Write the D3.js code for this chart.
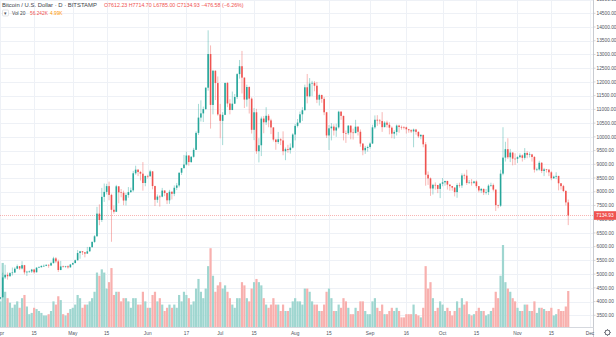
<!DOCTYPE html>
<html>
<head>
<meta charset="utf-8">
<script src="https://cdn.jsdelivr.net/npm/d3@7"></script>
<style>
html,body{margin:0;padding:0;background:#fff;}
svg{display:block;}
text{font-family:"Liberation Sans",Arial,sans-serif;}
</style>
</head>
<body>
<div id="chart"></div>
<script>
// ---------------- DATA ----------------
const startDate = "2019-04-01"; // first daily candle, consecutive days follow
const open = [
4105,4158,4880,4974,4922,5036,5059,5198,5289,5205,5325,5064,5089,5096,5167,5067,5235,5251,5298,5303,5337,5314,5399,5573,5464,5150,5280,5268,5285,5247,
5350,5402,5505,5768,5831,5795,5747,5830,5982,6174,6378,7204,6972,7814,7995,8205,7885,7343,7271,8198,7978,7963,7680,7882,7988,8052,8673,8805,8719,8659,8319,
8575,8565,8742,8208,7707,7824,7822,8043,7954,7688,8000,7927,8145,8230,8693,8860,8990,9320,9082,9273,9527,10144,10701,10855,11011,11790,13017,11162,12407,11959,
10817,10583,10801,11961,11215,10978,11208,11450,12285,12573,12156,11358,11815,11392,10256,10895,9477,9693,10666,10530,10767,10599,10343,9900,9811,9911,9870,9477,9552,9519,9607,
10085,10399,10519,10821,10970,11805,11478,11941,11966,11862,11354,11523,11382,10895,10051,10311,10374,10231,10345,10916,10763,10138,10131,10407,10159,10138,10370,10185,9754,9510,9598,
9630,9757,10346,10623,10594,10575,10353,10517,10441,10334,10116,10178,10410,10360,10358,10347,10276,10241,10198,10266,10181,10019,10070,9729,8620,8487,8118,8251,8245,8104,
8293,8343,8393,8260,8205,8151,7988,8245,8228,8595,8586,8321,8336,8321,8374,8205,8047,8103,7973,7988,8222,8243,8078,7514,7493,8660,9244,9551,9256,9427,9205,
9199,9261,9324,9235,9413,9342,9360,9267,8804,8813,9055,8757,8815,8808,8708,8491,8550,8577,8309,8206,8027,7612.23
];
const high = [
4164,5050,5340,5060,5070,5240,5250,5350,5295,5470,5335,5120,5130,5190,5190,5250,5290,5320,5350,5360,5360,5450,5630,5620,5530,5480,5310,5300,5320,5370,
5420,5530,5880,5850,5840,5800,5990,6000,6190,6420,7450,7540,8140,8300,8290,8370,7930,7500,8250,8200,8100,8040,7950,8170,8150,8760,8950,8820,8760,9080,8590,
8620,8800,8750,8220,7900,7880,8140,8060,7960,8070,8010,8230,8320,8700,8870,9340,9460,9330,9300,9600,10200,11200,11330,11100,11800,13880,13330,12440,12420,12200,
11200,10900,11980,12000,11370,11650,11560,12320,12800,13130,12170,11900,11840,11440,11050,11020,9950,10740,10760,11080,10830,10660,10350,9930,10180,9950,10200,9610,9710,9760,10130,
10470,10650,10920,11080,11900,12290,12140,12040,12030,12000,11570,11540,11450,10910,10430,10500,10460,10480,10950,10940,10770,10230,10430,10420,10300,10620,10390,10270,9770,9670,9680,
9800,10440,10780,10790,10650,10900,10570,10590,10530,10380,10240,10450,10440,10410,10390,10370,10290,10280,10300,10290,10200,10100,10080,9810,8740,8520,8290,8340,8250,8320,
8500,8400,8400,8270,8210,8170,8310,8330,8670,8660,8800,8430,8460,8400,8410,8210,8140,8120,8100,8270,8330,8300,8080,7530,8800,10350,9820,9950,9560,9440,9400,
9290,9400,9360,9590,9480,9440,9380,9300,8880,9130,9080,8870,8830,8810,8750,8590,8710,8580,8310,8250,8060,7714.70
];
const low = [
4080,4150,4820,4800,4910,4950,5040,5180,5150,5170,4990,4930,5050,5040,5020,5060,5220,5245,5260,5290,5230,5300,5390,5400,5080,5140,5240,5230,5200,5240,
5330,5395,5500,5560,5700,5610,5740,5820,5970,6140,6370,6780,6900,7630,7900,7690,6178,7200,7260,7580,7800,7510,7500,7780,7960,8000,8620,8570,8410,8040,8200,
8480,8550,8090,7480,7600,7460,7800,7840,7550,7560,7720,7840,8060,8160,8610,8850,8960,8950,9050,9240,9520,10070,10560,10540,10990,11680,10300,10820,11340,10770,
9950,9700,10790,11080,10820,10970,11200,11380,12120,11580,11050,11100,10850,10120,9880,9380,9070,9300,10130,10430,10350,10100,9830,9530,9740,9700,9330,9150,9420,9390,9580,
9870,10340,10500,10580,10960,11220,11440,11480,11660,11230,11140,11240,10790,9960,9520,9870,10050,10000,10300,10620,9870,9780,10070,9910,9900,10130,10050,9640,9330,9380,9460,
9570,9740,10290,10400,10460,10180,10350,10340,10090,9950,9930,10050,10150,10260,10270,10120,10150,10140,9620,10080,9960,9910,9620,8220,8250,7850,7900,8080,7950,7770,
8200,8220,8080,8040,8040,7830,7780,8150,8140,8450,8250,8300,8220,8280,8130,7980,7950,7880,7900,7880,8180,8010,7300,7400,7450,8600,9100,9190,9080,8960,8980,
9050,9220,9100,9170,9220,9250,9100,8700,8750,8770,8680,8570,8700,8570,8420,8470,8460,8050,8080,7990,7500,6785.00
];
const close = [
4158,4880,4974,4922,5036,5059,5198,5289,5205,5325,5064,5089,5096,5167,5067,5235,5251,5298,5303,5337,5314,5399,5573,5464,5150,5280,5268,5285,5247,5350,
5402,5505,5768,5831,5795,5747,5830,5982,6174,6378,7204,6972,7814,7995,8205,7885,7343,7271,8198,7978,7963,7680,7882,7988,8052,8673,8805,8719,8659,8319,8575,
8565,8742,8208,7707,7824,7822,8043,7954,7688,8000,7927,8145,8230,8693,8860,8990,9320,9082,9273,9527,10144,10701,10855,11011,11790,13017,11162,12407,11959,10817,
10583,10801,11961,11215,10978,11208,11450,12285,12573,12156,11358,11815,11392,10256,10895,9477,9693,10666,10530,10767,10599,10343,9900,9811,9911,9870,9477,9552,9519,9607,10085,
10399,10519,10821,10970,11805,11478,11941,11966,11862,11354,11523,11382,10895,10051,10311,10374,10231,10345,10916,10763,10138,10131,10407,10159,10138,10370,10185,9754,9510,9598,9630,
9757,10346,10623,10594,10575,10353,10517,10441,10334,10116,10178,10410,10360,10358,10347,10276,10241,10198,10266,10181,10019,10070,9729,8620,8487,8118,8251,8245,8104,8293,
8343,8393,8260,8205,8151,7988,8245,8228,8595,8586,8321,8336,8321,8374,8205,8047,8103,7973,7988,8222,8243,8078,7514,7493,8660,9244,9551,9256,9427,9205,9199,
9261,9324,9235,9413,9342,9360,9267,8804,8813,9055,8757,8815,8808,8708,8491,8550,8577,8309,8206,8027,7612.23,7134.93
];
// volume, thousands
const volume = [
40,100,55,45,38,30,35,40,30,45,50,32,20,22,30,28,25,22,18,18,20,25,40,35,48,42,20,18,22,28,
30,35,50,45,30,35,35,40,45,55,85,80,90,85,60,70,92,50,55,55,40,45,45,40,30,45,45,35,35,55,40,
30,30,50,55,40,45,35,25,30,35,30,35,30,50,40,55,50,45,35,40,60,75,55,45,60,95,123,80,55,65,
70,60,65,55,45,35,30,45,45,70,65,45,40,60,70,75,70,65,45,35,30,35,45,35,35,25,35,25,25,30,40,
45,40,40,35,60,60,55,40,35,35,25,25,35,55,60,45,25,25,35,30,45,40,30,20,20,30,25,40,40,25,20,
20,40,45,30,25,35,20,20,25,30,25,30,25,15,15,20,20,20,35,20,18,15,30,95,60,70,45,25,30,40,
35,25,30,25,18,25,40,30,45,35,40,20,18,20,25,30,25,25,18,20,25,30,55,45,80,128,70,60,55,45,40,
30,25,25,35,35,25,25,40,22,30,30,28,25,25,30,18,20,28,25,25,32,56.2
];
const timeTickDates = ["2019-04-01","2019-04-15","2019-05-01","2019-05-15","2019-06-01","2019-06-17","2019-07-01","2019-07-15","2019-08-01","2019-08-15","2019-09-01","2019-09-16","2019-10-01","2019-10-15","2019-11-01","2019-11-15","2019-12-01"];
const timeTickLabels = ["Apr","15","May","15","Jun","17","Jul","15","Aug","15","Sep","16","Oct","15","Nov","15","Dec"];
const priceTicks = [3500,4000,4500,5000,5500,6000,6500,7000,7500,8000,8500,9000,9500,10000,10500,11000,11500,12000,12500,13000,13500,14000,14500,15000];
const titleText = "Bitcoin / U.S. Dollar · D · BITSTAMP";
const ohlcText = "O7612.23 H7714.70 L6785.00 C7134.93 −476.58 (−6.26%)";
const lastPrice = 7134.93;
const volLabel = "Vol 20", volValue = "56.242K", volMA = "4.99K";

// ---------------- CHART ----------------
const W = 616, H = 337;
const plotRight = 593.5, plotBottom = 327.5;
const up = "#26a69a", down = "#ef5350";
const upVol = "#9fd6d0", downVol = "#f8b0ae";
const grid = "#eef1f6";

const parse = d3.utcParse("%Y-%m-%d");
const dates = d3.range(close.length).map(i => d3.utcDay.offset(parse(startDate), i));

const x = d3.scaleUtc().domain([parse("2019-04-01"), parse("2019-12-01")]).range([0.3, 590]);
const y = d3.scaleLinear().domain([3500, 14500]).range([315.3, 13.3]);
const yv = d3.scaleLinear().domain([0, 128]).range([327, 245]);

const svg = d3.select("#chart").append("svg").attr("width", W).attr("height", H);
svg.append("rect").attr("width", W).attr("height", H).attr("fill", "#fff");

svg.append("clipPath").attr("id", "plot").append("rect")
  .attr("x", 0).attr("y", 0).attr("width", plotRight).attr("height", plotBottom);

const g = svg.append("g").attr("clip-path", "url(#plot)");

// grid
g.selectAll("line.hg").data(priceTicks).join("line")
  .attr("x1", 0).attr("x2", plotRight)
  .attr("y1", d => Math.round(y(d)) + 0.5).attr("y2", d => Math.round(y(d)) + 0.5)
  .attr("stroke", grid).attr("stroke-width", 1);
g.selectAll("line.vg").data(timeTickDates).join("line")
  .attr("x1", d => Math.round(x(parse(d))) + 0.5).attr("x2", d => Math.round(x(parse(d))) + 0.5)
  .attr("y1", 0).attr("y2", plotBottom)
  .attr("stroke", grid).attr("stroke-width", 1);

// volume
const bw = 2.2;
g.selectAll("rect.vol").data(volume).join("rect")
  .attr("x", (d, i) => x(dates[i]) - bw / 2)
  .attr("width", bw)
  .attr("y", d => yv(d))
  .attr("height", d => yv(0) - yv(d))
  .attr("fill", (d, i) => close[i] >= open[i] ? upVol : downVol);

// last price line
g.append("line")
  .attr("x1", 0).attr("x2", plotRight)
  .attr("y1", y(lastPrice)).attr("y2", y(lastPrice))
  .attr("stroke", down).attr("stroke-opacity", 0.55).attr("stroke-width", 0.8)
  .attr("stroke-dasharray", "1,1");

// candles
const cw = 1.6;
const cg = g.append("g");
cg.selectAll("line.wick").data(close).join("line")
  .attr("x1", (d, i) => x(dates[i])).attr("x2", (d, i) => x(dates[i]))
  .attr("y1", (d, i) => y(high[i])).attr("y2", (d, i) => y(low[i]))
  .attr("stroke", (d, i) => close[i] >= open[i] ? up : down)
  .attr("stroke-width", 0.6).attr("stroke-opacity", 0.7);
cg.selectAll("rect.body").data(close).join("rect")
  .attr("x", (d, i) => x(dates[i]) - cw / 2)
  .attr("width", cw)
  .attr("y", (d, i) => y(Math.max(open[i], close[i])))
  .attr("height", (d, i) => Math.max(0.6, Math.abs(y(open[i]) - y(close[i]))))
  .attr("fill", (d, i) => close[i] >= open[i] ? up : down);

// right axis
svg.append("line").attr("x1", plotRight).attr("x2", plotRight).attr("y1", 0).attr("y2", H)
  .attr("stroke", "#c8cbd1").attr("stroke-width", 1);
svg.append("line").attr("x1", 0).attr("x2", plotRight).attr("y1", plotBottom).attr("y2", plotBottom)
  .attr("stroke", "#d5d8de").attr("stroke-width", 1);

const yAxis = svg.append("g");
yAxis.selectAll("line").data(priceTicks).join("line")
  .attr("x1", plotRight).attr("x2", plotRight + 2)
  .attr("y1", d => y(d)).attr("y2", d => y(d))
  .attr("stroke", "#b8bbc1").attr("stroke-width", 0.6);
yAxis.selectAll("text").data(priceTicks.filter(d => y(d) < plotBottom - 6)).join("text")
  .attr("x", 596.5).attr("y", d => y(d))
  .attr("dy", "0.35em")
  .attr("font-size", 4.8).attr("fill", "#50535e")
  .text(d => d3.format(".2f")(d));

// last price label
svg.append("rect").attr("x", 594).attr("y", y(lastPrice) - 4.3).attr("width", 22).attr("height", 8.6)
  .attr("fill", down);
svg.append("text").attr("x", 605).attr("y", y(lastPrice)).attr("dy", "0.35em")
  .attr("text-anchor", "middle").attr("font-size", 4.8).attr("fill", "#fff")
  .text(d3.format(".2f")(lastPrice));

// x axis labels
svg.selectAll("text.xl").data(timeTickDates).join("text")
  .attr("x", d => x(parse(d)))
  .attr("y", 333.5).attr("dy", "0.35em")
  .attr("text-anchor", "middle")
  .attr("font-size", 4.8).attr("fill", "#50535e")
  .text((d, i) => timeTickLabels[i]);

// gear icon
const gear = svg.append("g").attr("transform", "translate(607.5,332.5)");
gear.append("circle").attr("r", 2.4).attr("fill", "none").attr("stroke", "#5d606b").attr("stroke-width", 0.9);
d3.range(8).forEach(k => {
  const a = k * Math.PI / 4;
  gear.append("line").attr("x1", Math.cos(a) * 2.4).attr("y1", Math.sin(a) * 2.4)
    .attr("x2", Math.cos(a) * 3.3).attr("y2", Math.sin(a) * 3.3)
    .attr("stroke", "#5d606b").attr("stroke-width", 0.9);
});

// header legend
svg.append("text").attr("x", 2).attr("y", 5).attr("dy", "0.35em")
  .attr("font-size", 5.9).attr("fill", "#3c3f4a").text(titleText);
svg.append("text").attr("x", 104).attr("y", 5).attr("dy", "0.35em")
  .attr("font-size", 5.3).attr("fill", down).text(ohlcText);

svg.append("rect").attr("x", 2.5).attr("y", 10).attr("width", 6).attr("height", 6).attr("rx", 1)
  .attr("fill", "#fff").attr("stroke", "#d0d3d9").attr("stroke-width", 0.6);
svg.append("text").attr("x", 5.5).attr("y", 13).attr("dy", "0.35em").attr("text-anchor", "middle")
  .attr("font-size", 4.5).attr("fill", "#50535e").text("▾");
svg.append("text").attr("x", 12).attr("y", 13).attr("dy", "0.35em")
  .attr("font-size", 4.8).attr("fill", "#3c3f4a").text(volLabel);
svg.append("text").attr("x", 30).attr("y", 13).attr("dy", "0.35em")
  .attr("font-size", 4.8).attr("fill", down).text(volValue);
svg.append("text").attr("x", 50).attr("y", 13).attr("dy", "0.35em")
  .attr("font-size", 4.8).attr("fill", "#ff9800").text(volMA);
</script>
</body>
</html>
